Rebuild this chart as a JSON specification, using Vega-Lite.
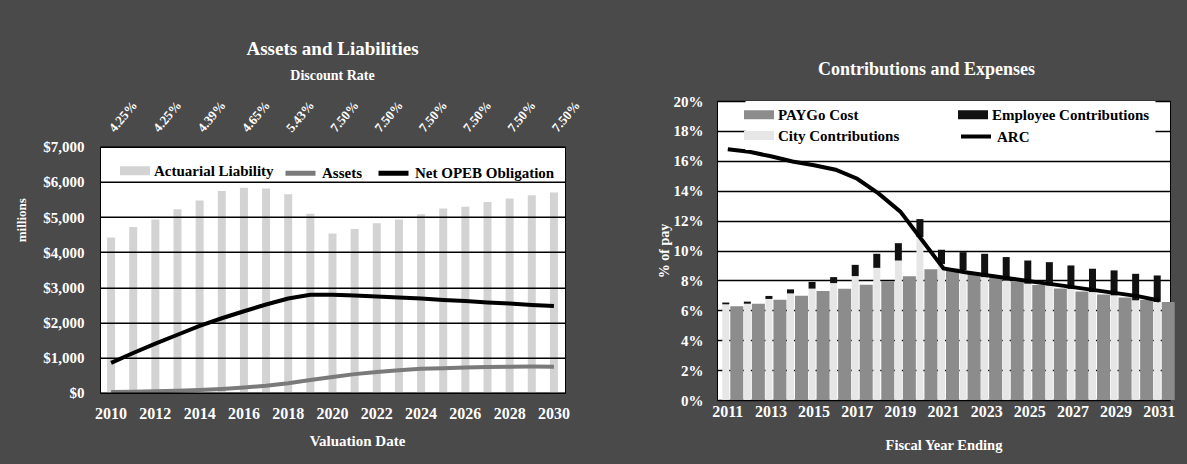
{
  "$schema": "https://vega.github.io/schema/vega-lite/v6.json",
  "background": "#4a4a4a",
  "padding": {"left": 15, "top": 39, "right": 15, "bottom": 0},
  "spacing": 72,
  "center": true,
  "resolve": {
    "scale": {"x": "independent", "y": "independent", "fill": "independent", "stroke": "independent"},
    "legend": {"fill": "independent", "stroke": "independent"},
    "axis": {"x": "independent", "y": "independent"}
  },
  "config": {
    "font": "Liberation Serif",
    "view": {"stroke": "#000000", "strokeWidth": 1, "fill": "white"},
    "axis": {"labelFont": "Liberation Serif", "titleFont": "Liberation Serif", "labelFontWeight": "bold", "titleFontWeight": "bold", "labelColor": "white", "titleColor": "white", "domain": false, "ticks": false, "tickSize": 0, "labelOverlap": false},
    "legend": {"labelFont": "Liberation Serif", "labelFontWeight": "bold", "labelFontSize": 15, "labelColor": "black", "title": null, "labelOffset": 11.5, "symbolSize": 225},
    "title": {"font": "Liberation Serif", "fontWeight": "bold", "color": "white", "subtitleFont": "Liberation Serif", "subtitleFontWeight": "bold", "subtitleColor": "white"}
  },
  "datasets": {
    "liability": [
      {"year": 2010, "value": 4420}, {"year": 2011, "value": 4720}, {"year": 2012, "value": 4930},
      {"year": 2013, "value": 5220}, {"year": 2014, "value": 5470}, {"year": 2015, "value": 5740},
      {"year": 2016, "value": 5830}, {"year": 2017, "value": 5810}, {"year": 2018, "value": 5650},
      {"year": 2019, "value": 5090}, {"year": 2020, "value": 4530}, {"year": 2021, "value": 4660},
      {"year": 2022, "value": 4820}, {"year": 2023, "value": 4930}, {"year": 2024, "value": 5080},
      {"year": 2025, "value": 5240}, {"year": 2026, "value": 5290}, {"year": 2027, "value": 5430},
      {"year": 2028, "value": 5530}, {"year": 2029, "value": 5620}, {"year": 2030, "value": 5700}
    ],
    "leftLines": [
      {"year": 2010, "series": "Assets", "value": 20}, {"year": 2011, "series": "Assets", "value": 30},
      {"year": 2012, "series": "Assets", "value": 40}, {"year": 2013, "series": "Assets", "value": 60},
      {"year": 2014, "series": "Assets", "value": 80}, {"year": 2015, "series": "Assets", "value": 110},
      {"year": 2016, "series": "Assets", "value": 150}, {"year": 2017, "series": "Assets", "value": 200},
      {"year": 2018, "series": "Assets", "value": 270}, {"year": 2019, "series": "Assets", "value": 360},
      {"year": 2020, "series": "Assets", "value": 450}, {"year": 2021, "series": "Assets", "value": 530},
      {"year": 2022, "series": "Assets", "value": 590}, {"year": 2023, "series": "Assets", "value": 640},
      {"year": 2024, "series": "Assets", "value": 680}, {"year": 2025, "series": "Assets", "value": 700},
      {"year": 2026, "series": "Assets", "value": 720}, {"year": 2027, "series": "Assets", "value": 730},
      {"year": 2028, "series": "Assets", "value": 740}, {"year": 2029, "series": "Assets", "value": 745},
      {"year": 2030, "series": "Assets", "value": 740},
      {"year": 2010, "series": "Net OPEB Obligation", "value": 850}, {"year": 2011, "series": "Net OPEB Obligation", "value": 1130},
      {"year": 2012, "series": "Net OPEB Obligation", "value": 1400}, {"year": 2013, "series": "Net OPEB Obligation", "value": 1650},
      {"year": 2014, "series": "Net OPEB Obligation", "value": 1900}, {"year": 2015, "series": "Net OPEB Obligation", "value": 2120},
      {"year": 2016, "series": "Net OPEB Obligation", "value": 2320}, {"year": 2017, "series": "Net OPEB Obligation", "value": 2510},
      {"year": 2018, "series": "Net OPEB Obligation", "value": 2680}, {"year": 2019, "series": "Net OPEB Obligation", "value": 2790},
      {"year": 2020, "series": "Net OPEB Obligation", "value": 2790}, {"year": 2021, "series": "Net OPEB Obligation", "value": 2770},
      {"year": 2022, "series": "Net OPEB Obligation", "value": 2740}, {"year": 2023, "series": "Net OPEB Obligation", "value": 2710},
      {"year": 2024, "series": "Net OPEB Obligation", "value": 2680}, {"year": 2025, "series": "Net OPEB Obligation", "value": 2640},
      {"year": 2026, "series": "Net OPEB Obligation", "value": 2610}, {"year": 2027, "series": "Net OPEB Obligation", "value": 2570},
      {"year": 2028, "series": "Net OPEB Obligation", "value": 2540}, {"year": 2029, "series": "Net OPEB Obligation", "value": 2500},
      {"year": 2030, "series": "Net OPEB Obligation", "value": 2470}
    ],
    "rates": [
      {"year": 2010, "rate": "4.25%"}, {"year": 2012, "rate": "4.25%"}, {"year": 2014, "rate": "4.39%"},
      {"year": 2016, "rate": "4.65%"}, {"year": 2018, "rate": "5.43%"}, {"year": 2020, "rate": "7.50%"},
      {"year": 2022, "rate": "7.50%"}, {"year": 2024, "rate": "7.50%"}, {"year": 2026, "rate": "7.50%"},
      {"year": 2028, "rate": "7.50%"}, {"year": 2030, "rate": "7.50%"}
    ],
    "paygo": [
      {"year": 2011, "value": 6.27}, {"year": 2012, "value": 6.44}, {"year": 2013, "value": 6.71},
      {"year": 2014, "value": 6.98}, {"year": 2015, "value": 7.29}, {"year": 2016, "value": 7.44},
      {"year": 2017, "value": 7.71}, {"year": 2018, "value": 7.96}, {"year": 2019, "value": 8.27},
      {"year": 2020, "value": 8.75}, {"year": 2021, "value": 8.8}, {"year": 2022, "value": 8.45},
      {"year": 2023, "value": 8.2}, {"year": 2024, "value": 7.95}, {"year": 2025, "value": 7.7},
      {"year": 2026, "value": 7.45}, {"year": 2027, "value": 7.25}, {"year": 2028, "value": 7.05},
      {"year": 2029, "value": 6.85}, {"year": 2030, "value": 6.7}, {"year": 2031, "value": 6.55}
    ],
    "contrib": [
      {"year": 2011, "series": "City Contributions", "value": 6.4}, {"year": 2011, "series": "Employee Contributions", "value": 0.12},
      {"year": 2012, "series": "City Contributions", "value": 6.44}, {"year": 2012, "series": "Employee Contributions", "value": 0.14},
      {"year": 2013, "series": "City Contributions", "value": 6.76}, {"year": 2013, "series": "Employee Contributions", "value": 0.2},
      {"year": 2014, "series": "City Contributions", "value": 7.13}, {"year": 2014, "series": "Employee Contributions", "value": 0.27},
      {"year": 2015, "series": "City Contributions", "value": 7.45}, {"year": 2015, "series": "Employee Contributions", "value": 0.45},
      {"year": 2016, "series": "City Contributions", "value": 7.82}, {"year": 2016, "series": "Employee Contributions", "value": 0.4},
      {"year": 2017, "series": "City Contributions", "value": 8.29}, {"year": 2017, "series": "Employee Contributions", "value": 0.75},
      {"year": 2018, "series": "City Contributions", "value": 8.84}, {"year": 2018, "series": "Employee Contributions", "value": 0.94},
      {"year": 2019, "series": "City Contributions", "value": 9.33}, {"year": 2019, "series": "Employee Contributions", "value": 1.16},
      {"year": 2020, "series": "City Contributions", "value": 10.9}, {"year": 2020, "series": "Employee Contributions", "value": 1.2},
      {"year": 2021, "series": "City Contributions", "value": 9.1}, {"year": 2021, "series": "Employee Contributions", "value": 0.95},
      {"year": 2022, "series": "City Contributions", "value": 8.67}, {"year": 2022, "series": "Employee Contributions", "value": 1.22},
      {"year": 2023, "series": "City Contributions", "value": 8.22}, {"year": 2023, "series": "Employee Contributions", "value": 1.56},
      {"year": 2024, "series": "City Contributions", "value": 8.0}, {"year": 2024, "series": "Employee Contributions", "value": 1.56},
      {"year": 2025, "series": "City Contributions", "value": 7.78}, {"year": 2025, "series": "Employee Contributions", "value": 1.55},
      {"year": 2026, "series": "City Contributions", "value": 7.67}, {"year": 2026, "series": "Employee Contributions", "value": 1.55},
      {"year": 2027, "series": "City Contributions", "value": 7.44}, {"year": 2027, "series": "Employee Contributions", "value": 1.56},
      {"year": 2028, "series": "City Contributions", "value": 7.22}, {"year": 2028, "series": "Employee Contributions", "value": 1.56},
      {"year": 2029, "series": "City Contributions", "value": 7.0}, {"year": 2029, "series": "Employee Contributions", "value": 1.67},
      {"year": 2030, "series": "City Contributions", "value": 6.67}, {"year": 2030, "series": "Employee Contributions", "value": 1.77},
      {"year": 2031, "series": "City Contributions", "value": 6.56}, {"year": 2031, "series": "Employee Contributions", "value": 1.77}
    ],
    "arc": [
      {"year": 2011, "value": 16.77}, {"year": 2012, "value": 16.6}, {"year": 2013, "value": 16.3},
      {"year": 2014, "value": 15.95}, {"year": 2015, "value": 15.7}, {"year": 2016, "value": 15.4},
      {"year": 2017, "value": 14.8}, {"year": 2018, "value": 13.8}, {"year": 2019, "value": 12.6},
      {"year": 2020, "value": 10.7}, {"year": 2021, "value": 8.8}, {"year": 2022, "value": 8.55},
      {"year": 2023, "value": 8.35}, {"year": 2024, "value": 8.15}, {"year": 2025, "value": 7.95},
      {"year": 2026, "value": 7.75}, {"year": 2027, "value": 7.55}, {"year": 2028, "value": 7.35},
      {"year": 2029, "value": 7.15}, {"year": 2030, "value": 6.95}, {"year": 2031, "value": 6.65}
    ]
  },
  "hconcat": [
    {
      "width": 465,
      "height": 246,
      "title": {"text": "Assets and Liabilities", "subtitle": "Discount Rate", "fontSize": 19, "subtitleFontSize": 14, "subtitlePadding": 10, "offset": 16, "anchor": "middle", "frame": "group"},
      "layer": [
        {
          "data": {"name": "liability"},
          "mark": {"type": "bar", "size": 8},
          "encoding": {
            "x": {"field": "year", "type": "ordinal", "scale": {"paddingInner": 0, "paddingOuter": 0},
              "axis": {"labelExpr": "datum.value % 2 == 0 ? datum.label : ''", "labelAngle": 0, "labelFontSize": 16, "labelPadding": 13, "title": "Valuation Date", "titleFontSize": 15, "titlePadding": 12, "titleX": 257, "titleAlign": "center"}},
            "y": {"field": "value", "type": "quantitative", "scale": {"domain": [0, 7000]},
              "axis": {"values": [0, 1000, 2000, 3000, 4000, 5000, 6000, 7000], "tickCount": 20, "format": "$,.0f", "grid": true, "gridColor": "#000000", "gridOpacity": 1, "gridWidth": 1.5, "zindex": 1, "labelFontSize": 15, "labelPadding": 16, "title": "millions", "titleFontSize": 13, "titlePadding": 14, "titleY": 73, "titleAlign": "center"}},
            "fill": {"datum": "Actuarial Liability", "scale": {"domain": ["Actuarial Liability"], "range": ["#d3d3d3"]},
              "legend": {"orient": "none", "legendX": 27.5, "legendY": 16.5, "symbolType": "M-2,-0.6H2V0.6H-2Z", "symbolStrokeWidth": 0}}
          }
        },
        {
          "data": {"name": "leftLines"},
          "mark": {"type": "line", "strokeWidth": 4},
          "encoding": {
            "x": {"field": "year", "type": "ordinal"},
            "y": {"field": "value", "type": "quantitative"},
            "stroke": {"field": "series", "type": "nominal", "scale": {"domain": ["Assets", "Net OPEB Obligation"], "range": ["#7a7a7a", "#000000"]},
              "legend": {"orient": "none", "legendX": 190.5, "legendY": 16.5, "direction": "horizontal", "symbolType": "M-2,0H2", "symbolStrokeWidth": 5, "columnPadding": 6}}
          }
        },
        {
          "data": {"name": "rates"},
          "mark": {"type": "text", "angle": -50, "align": "left", "baseline": "middle", "dx": 13, "dy": -10, "fontSize": 13, "fontWeight": "bold", "color": "white"},
          "encoding": {
            "x": {"field": "year", "type": "ordinal"},
            "y": {"value": 0},
            "text": {"field": "rate"}
          }
        }
      ]
    },
    {
      "width": 453,
      "height": 299,
      "title": {"text": "Contributions and Expenses", "fontSize": 18, "offset": 15, "anchor": "middle", "frame": "group", "dx": -17},
      "layer": [
        {
          "data": {"name": "paygo"},
          "mark": {"type": "bar", "size": 13, "xOffset": 9},
          "encoding": {
            "x": {"field": "year", "type": "ordinal", "scale": {"paddingInner": 0, "paddingOuter": 0},
              "axis": {"labelExpr": "datum.value % 2 == 1 ? datum.label : ''", "labelAngle": 0, "labelFontSize": 16, "labelPadding": 3, "title": ["Fiscal Year Ending", ""], "titleLineHeight": 43, "titleFontSize": 14.5, "titlePadding": 19}},
            "y": {"field": "value", "type": "quantitative", "scale": {"domain": [0, 20]},
              "axis": {"values": [0, 2, 4, 6, 8, 10, 12, 14, 16, 18, 20], "tickCount": 30, "labelExpr": "datum.value + '%'", "grid": true, "gridColor": "#000000", "gridWidth": 1.5, "gridOpacity": 1, "labelFontSize": 15, "labelPadding": 14, "title": "% of pay", "titleFontSize": 14, "titlePadding": 2}},
            "fill": {"datum": "PAYGo Cost", "scale": {"domain": ["PAYGo Cost", "Employee Contributions", "City Contributions"], "range": ["#8c8c8c", "#111111", "#e6e6e6"]},
              "legend": {"orient": "none", "legendX": 28.5, "legendY": 0, "columns": 2, "columnPadding": 58, "rowPadding": 5, "padding": 6, "fillColor": "white", "values": ["PAYGo Cost", "City Contributions", "Employee Contributions"], "symbolType": "M-2,-0.6H2V0.6H-2Z", "symbolStrokeWidth": 0}}
          }
        },
        {
          "data": {"name": "contrib"},
          "mark": {"type": "bar", "size": 7, "xOffset": -2},
          "encoding": {
            "x": {"field": "year", "type": "ordinal"},
            "y": {"field": "value", "type": "quantitative", "stack": "zero"},
            "fill": {"field": "series", "type": "nominal"},
            "order": {"field": "series", "sort": "ascending"}
          }
        },
        {
          "data": {"name": "arc"},
          "mark": {"type": "line", "strokeWidth": 4},
          "encoding": {
            "x": {"field": "year", "type": "ordinal"},
            "y": {"field": "value", "type": "quantitative"},
            "stroke": {"datum": "ARC", "scale": {"domain": ["ARC"], "range": ["#000000"]},
              "legend": {"orient": "none", "legendX": 249.5, "legendY": 26, "symbolType": "M-2,0H2", "symbolStrokeWidth": 4}}
          }
        }
      ]
    }
  ]
}
